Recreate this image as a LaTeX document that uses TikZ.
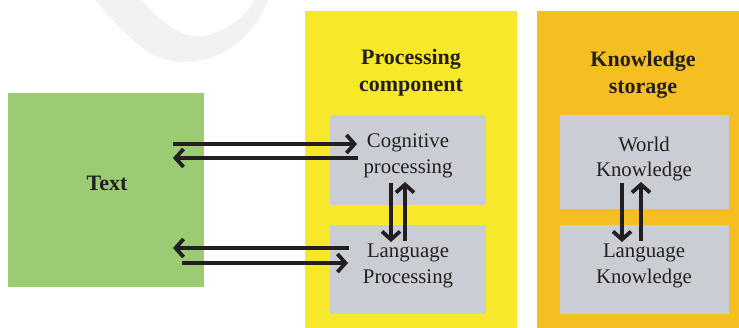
\documentclass[tikz,border=0pt]{standalone}
\usepackage{fontspec}
\setmainfont{Liberation Serif}
\usetikzlibrary{arrows.meta}
\definecolor{gbox}{HTML}{9BCB72}
\definecolor{ybox}{HTML}{F7E92A}
\definecolor{obox}{HTML}{F5BE21}
\definecolor{greybox}{HTML}{CBCDD4}
\definecolor{ink}{HTML}{231F20}
\definecolor{wmark}{HTML}{F2F2F2}
\tikzset{
  panel/.style={draw=none,inner sep=0pt,anchor=north west},
  lbl/.style={text=ink,align=center,font=\fontsize{20.8}{25.5}\selectfont},
  ttl/.style={text=ink,align=center,font=\fontsize{22}{27}\selectfont\bfseries},
  arr/.style={draw=ink,line width=3.8pt,-{Straight Barb[length=8pt,width=18pt]}},
}
\begin{document}
\begin{tikzpicture}[x=1pt,y=-1pt]
\useasboundingbox (0,0) rectangle (739,328);
% watermark swoosh
\fill[wmark] (95,0) -- (142,0) .. controls (160,22) and (180,36) .. (198,36)
  .. controls (220,36) and (245,18) .. (255,0) -- (268,0)
  .. controls (255,35) and (225,62) .. (182,62)
  .. controls (150,62) and (125,35) .. (95,0) -- cycle;
% panels
\node[panel,fill=gbox,minimum width=196pt,minimum height=194pt] (text) at (8,93) {};
\node[panel,fill=ybox,minimum width=212pt,minimum height=317pt] (proc) at (305,11) {};
\node[panel,fill=obox,minimum width=202pt,minimum height=317pt] (know) at (537,11) {};
\node[panel,fill=greybox,minimum width=156pt,minimum height=90pt] (cog) at (330,115) {};
\node[panel,fill=greybox,minimum width=156pt,minimum height=89pt] (lang) at (330,225) {};
\node[panel,fill=greybox,minimum width=169pt,minimum height=94pt] (world) at (560,115) {};
\node[panel,fill=greybox,minimum width=169pt,minimum height=89pt] (lk) at (560,225) {};
% labels
\node[ttl] (textl) at (107,183) {Text};
\node[ttl] (procl) at (411,73) {Processing\\component};
\node[ttl] (knowl) at (643,75) {Knowledge\\storage};
\node[lbl] (cogl) at (408,156) {Cognitive\\processing};
\node[lbl] (langl) at (408,266) {Language\\Processing};
\node[lbl] (worldl) at (644,159) {World\\Knowledge};
\node[lbl] (lkl) at (644,266) {Language\\Knowledge};
% connector endpoints
\coordinate (t1) at (173,144); \coordinate (c1) at (357,144);
\coordinate (c2) at (358,158); \coordinate (t2) at (173,158);
\coordinate (l1) at (349,248); \coordinate (t3) at (173,248);
\coordinate (t4) at (182,263); \coordinate (l2) at (348,263);
\coordinate (pd1) at (391,183); \coordinate (pd2) at (391,242);
\coordinate (pu1) at (405,241); \coordinate (pu2) at (405,182);
\coordinate (kd1) at (622,183); \coordinate (kd2) at (622,242);
\coordinate (ku1) at (641,241); \coordinate (ku2) at (641,182);
% arrows
\draw[arr] (t1) -- (c1);
\draw[arr] (c2) -- (t2);
\draw[arr] (l1) -- (t3);
\draw[arr] (t4) -- (l2);
\draw[arr] (pd1) -- (pd2);
\draw[arr] (pu1) -- (pu2);
\draw[arr] (kd1) -- (kd2);
\draw[arr] (ku1) -- (ku2);
\end{tikzpicture}
\end{document}
